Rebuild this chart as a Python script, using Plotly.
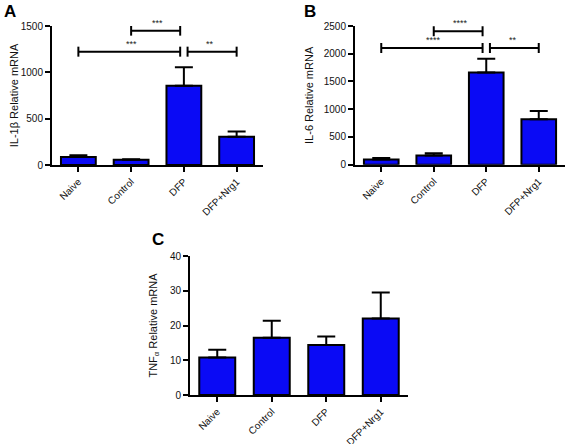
import plotly.graph_objects as go

categories = ["Naive", "Control", "DFP", "DFP+Nrg1"]

il1b_mean = [87, 57, 856, 304]
il1b_sem = [18, 6, 199, 58]

il6_mean = [93, 165, 1663, 819]
il6_sem = [30, 42, 247, 151]

tnf_mean = [10.8, 16.5, 14.4, 22.0]
tnf_sem = [2.2, 4.9, 2.4, 7.5]

# significance brackets: (start index, end index, y level, label)
il1b_sig = [(1, 1.93, 1450, "***"), (0, 1.93, 1223, "***"), (2.07, 3, 1223, "**")]
il6_sig = [(1, 1.93, 2404, "****"), (0, 1.93, 2102, "****"), (2.07, 3, 2102, "**")]

BLUE = "#0a0af5"
FONT = "Liberation Sans, Arial, sans-serif"

fig = go.Figure()

panels = [
    ("x", "y", il1b_mean, il1b_sem),
    ("x2", "y2", il6_mean, il6_sem),
    ("x3", "y3", tnf_mean, tnf_sem),
]
for xa, ya, m, s in panels:
    fig.add_trace(go.Bar(
        x=list(range(len(categories))), y=m, xaxis=xa, yaxis=ya,
        width=0.66,
        marker=dict(color=BLUE, line=dict(color="black", width=2)),
        error_y=dict(type="data", symmetric=False, array=s,
                     arrayminus=[0] * len(s), color="black",
                     thickness=2, width=9),
        showlegend=False, hoverinfo="skip",
    ))

def brackets(sig, xref, yref, tick):
    for x0, x1, yv, lab in sig:
        fig.add_shape(type="line", x0=x0, x1=x1, y0=yv, y1=yv,
                      xref=xref, yref=yref, line=dict(color="black", width=2))
        for xe in (x0, x1):
            fig.add_shape(type="line", x0=xe, x1=xe, y0=yv - tick, y1=yv + tick,
                          xref=xref, yref=yref, line=dict(color="black", width=2))
        cx = (round(x0) + round(x1)) / 2
        fig.add_annotation(x=cx, y=yv, xref=xref, yref=yref, text=lab,
                           showarrow=False, yanchor="bottom", yshift=1,
                           font=dict(size=9, color="#222", family=FONT))

brackets(il1b_sig, "x", "y", 54)
brackets(il6_sig, "x2", "y2", 90)

axis_common = dict(showline=True, linewidth=2, linecolor="black",
                   ticks="outside", ticklen=5, tickwidth=1.5, tickcolor="black",
                   showgrid=False, zeroline=False, automargin=False,
                   tickfont=dict(size=10, color="#111", family=FONT))

def xaxis(domain, anchor):
    return dict(axis_common, domain=domain, anchor=anchor, range=[-0.5, 3.5],
                tickmode="array", tickvals=list(range(len(categories))),
                ticktext=categories, tickangle=-45)

def yaxis(domain, anchor, rng, dtick, title, standoff):
    return dict(axis_common, domain=domain, anchor=anchor, range=rng, dtick=dtick,
                title=dict(text=title, font=dict(size=11, color="#111", family=FONT),
                           standoff=standoff))

W, H = 567, 444
def px(a, b):
    return [a / W, b / W]
def py(top, bottom):
    return [1 - bottom / H, 1 - top / H]

fig.update_layout(
    width=W, height=H, margin=dict(l=0, r=0, t=0, b=0),
    paper_bgcolor="white", plot_bgcolor="white",
    font=dict(family=FONT),
    xaxis=xaxis(px(52, 263), "y"),
    yaxis=yaxis(py(26, 165), "x", [0, 1500], 500, "IL-1β Relative mRNA", 0),
    xaxis2=xaxis(px(355, 565), "y2"),
    yaxis2=yaxis(py(26, 164.7), "x2", [0, 2500], 500, "IL-6 Relative mRNA", 8),
    xaxis3=xaxis(px(190, 408), "y3"),
    yaxis3=yaxis(py(256, 395), "x3", [0, 40], 10, "TNF<sub>α</sub> Relative mRNA", 10),
)

for lab, xx, yy in [("A", 2, 0), ("B", 302, 0), ("C", 150, 228)]:
    fig.add_annotation(x=xx / W, y=1 - yy / H, xref="paper", yref="paper",
                       xanchor="left", yanchor="top", text=f"<b>{lab}</b>",
                       showarrow=False, font=dict(size=17, color="black", family=FONT))

fig.write_html("out.html", config={"displayModeBar": False},
               post_script="document.body.style.margin='0';")
